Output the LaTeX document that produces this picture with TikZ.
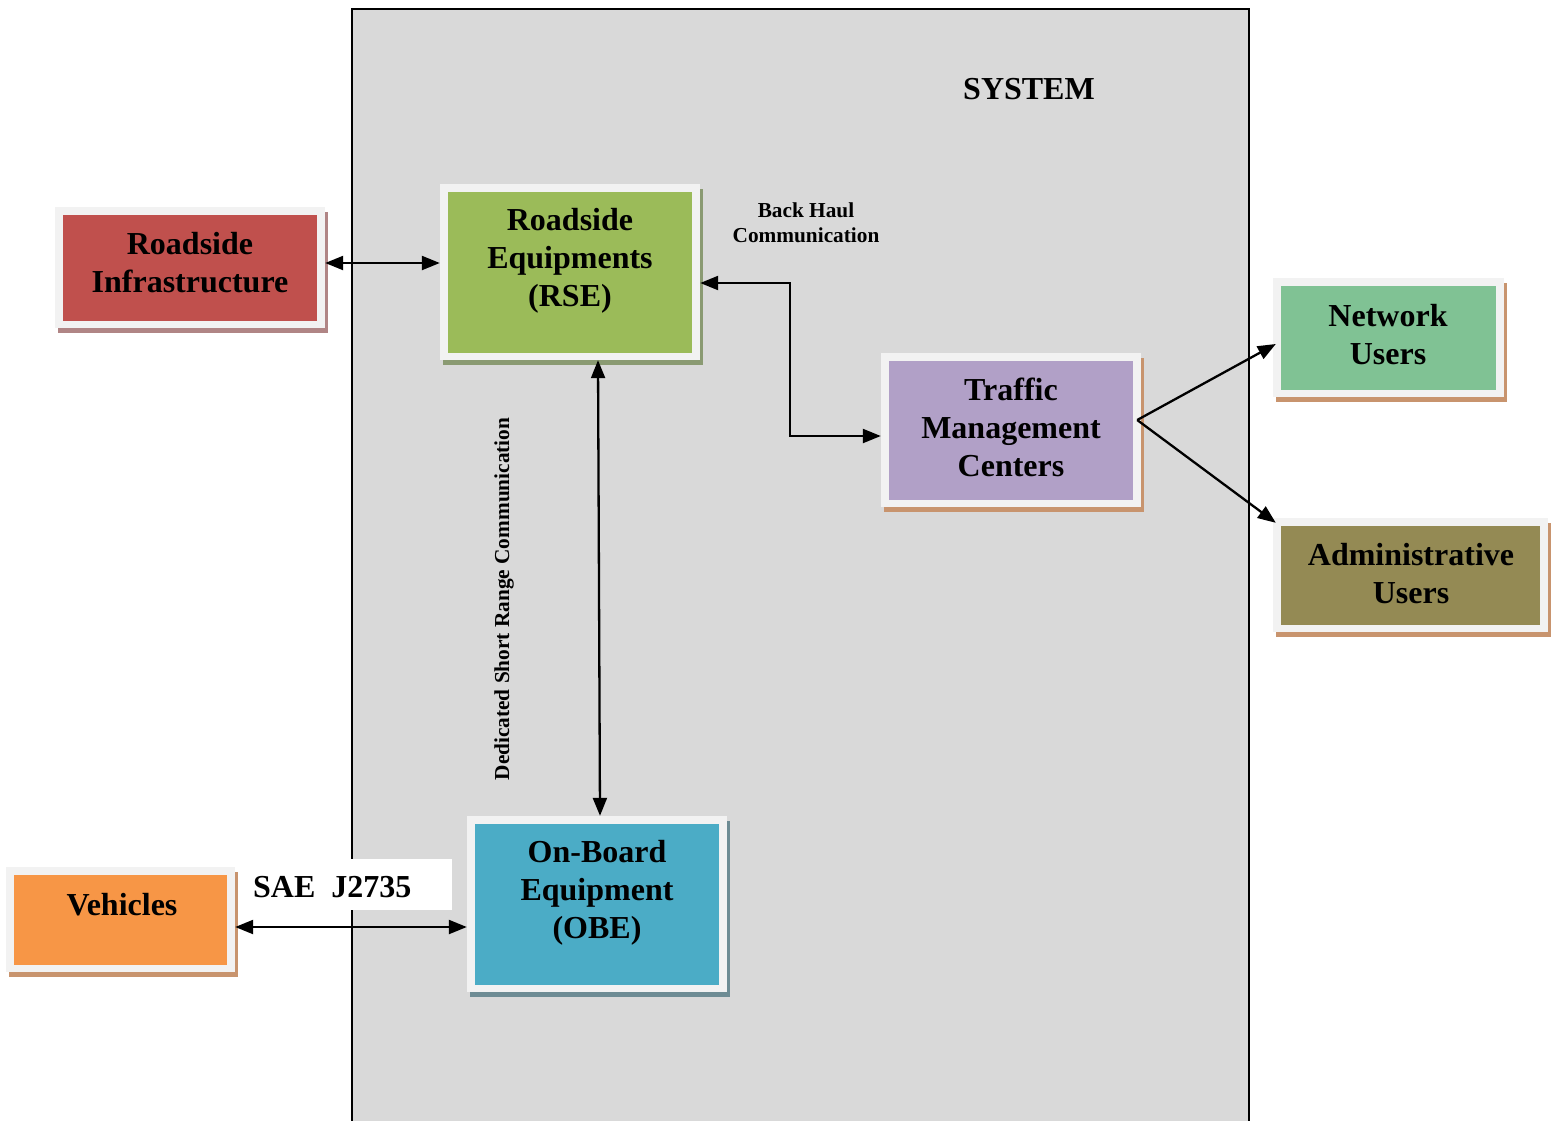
\documentclass[tikz,border=0pt]{standalone}
\usepackage{fontspec}
\setmainfont{Liberation Serif}
\usetikzlibrary{arrows.meta,calc}
\definecolor{sysgray}{HTML}{D9D9D9}
\definecolor{framegray}{HTML}{F2F2F2}
\definecolor{cred}{HTML}{C0504D}
\definecolor{cgreen}{HTML}{9BBB59}
\definecolor{cpurple}{HTML}{B1A0C7}
\definecolor{cnet}{HTML}{80C294}
\definecolor{colive}{HTML}{948A54}
\definecolor{cblue}{HTML}{4BACC6}
\definecolor{corange}{HTML}{F79646}
\definecolor{shred}{HTML}{B08585}
\definecolor{shgreen}{HTML}{8A9A72}
\definecolor{shblue}{HTML}{6E8C94}
\definecolor{shbrown}{HTML}{C8946E}
\tikzset{
  outerbox/.style={fill=framegray, draw=none, inner sep=0pt},
  innerbox/.style={draw=none, inner sep=0pt},
  bigtxt/.style={align=center, font=\fontsize{32}{38}\selectfont\bfseries, inner sep=0pt},
  smalltxt/.style={align=center, font=\fontsize{21.3}{25}\selectfont\bfseries, inner sep=0pt},
  biarrow/.style={line width=2.3pt, {Triangle[length=18pt,width=14pt]}-{Triangle[length=18pt,width=14pt]}},
  onearrow/.style={line width=2.3pt, -{Triangle[length=18pt,width=14pt]}},
}
\newcommand\diabox[7]{%
  \fill[#7] (#2-#4/2+3, #3-#5/2+5) rectangle (#2+#4/2+3, #3+#5/2+5);
  \node[outerbox, minimum width=#4, minimum height=#5] (#1) at (#2,#3) {};
  \node[innerbox, fill=#6, minimum width=#4-16, minimum height=#5-15] (#1-in) at (#2,#3) {};
}
\begin{document}
\begin{tikzpicture}[x=1pt,y=-1pt]
\useasboundingbox (0,0) rectangle (1553,1120);
\fill[white] (0,0) rectangle (1553,1120);
% system box
\node[draw=black, line width=2pt, fill=sysgray, minimum width=897, minimum height=1131, inner sep=0pt] (sys) at (800.5,574.5) {};
\node[bigtxt] (systitle) at (1029,89) {SYSTEM};
% SAE label background
\node[fill=white, inner sep=0pt, minimum width=212, minimum height=51] (saebg) at (346,884.5) {};
\node[bigtxt, anchor=west] (sae) at (253,887) {SAE\ \ J2735};
% boxes
\diabox{ri}{190}{267.5}{270}{121}{cred}{shred}
\diabox{rse}{570}{272}{260}{176}{cgreen}{shgreen}
\diabox{obe}{597}{904}{260}{176}{cblue}{shblue}
\diabox{veh}{120.5}{919.5}{229}{105}{corange}{shbrown}
\diabox{tmc}{1011}{430}{260}{154}{cpurple}{shbrown}
\diabox{nu}{1388.5}{337.5}{231}{119}{cnet}{shbrown}
\diabox{au}{1410.5}{575}{275}{114}{colive}{shbrown}
% labels
\node[bigtxt] (ri-t) at (190,263) {Roadside\\Infrastructure};
\node[bigtxt] (rse-t) at (570,261) {Roadside\\Equipments\\(RSE)};
\node[bigtxt] (obe-t) at (597,893) {On-Board\\Equipment\\(OBE)};
\node[bigtxt] (veh-t) at (122,905) {Vehicles};
\node[bigtxt] (tmc-t) at (1011,427) {Traffic\\Management\\Centers};
\node[bigtxt] (nu-t) at (1388,335) {Network\\Users};
\node[bigtxt] (au-t) at (1411,574) {Administrative\\Users};
\node[smalltxt] (bh) at (806,223) {Back Haul\\Communication};
\node[smalltxt, rotate=90] (dsrc) at (504,599) {Dedicated Short Range Communication};
% connectors
\draw[biarrow] ([yshift=4.5pt]ri.east) -- ([yshift=4.5pt]ri.east -| rse.west);
\draw[biarrow] ([yshift=-11pt]rse.east) -| ([xshift=-91pt,yshift=-6pt]tmc.west) -- ([yshift=-6pt]tmc.west);
\draw[biarrow] ([xshift=28pt]rse.south) -- ([xshift=3pt]obe.north);
\draw[biarrow] ([yshift=-7.5pt]veh.east) -- ([yshift=-7.5pt]veh.east -| obe.west);
\draw[onearrow] ([xshift=-4pt,yshift=10pt]tmc.east) -- ([xshift=3pt,yshift=-6.5pt]nu.west);
\draw[onearrow] ([xshift=-4pt,yshift=10pt]tmc.east) -- ([xshift=3pt,yshift=-5pt]au.north west);
\end{tikzpicture}
\end{document}
